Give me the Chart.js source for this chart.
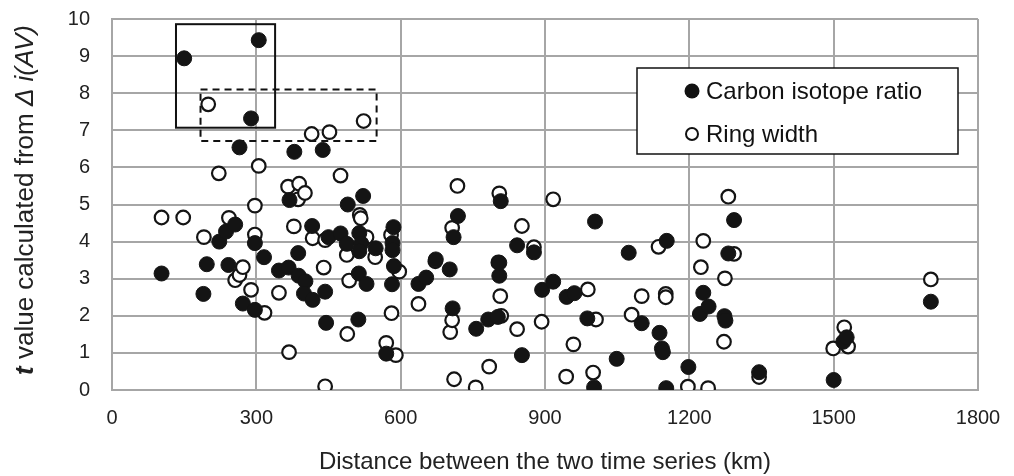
<!DOCTYPE html>
<html><head><meta charset="utf-8">
<script src="https://cdn.jsdelivr.net/npm/chart.js@4.4.0/dist/chart.umd.min.js"></script>
<style>html,body{margin:0;padding:0;background:#fff;}#wrap{width:1014px;height:476px;}</style>
</head><body><div id="wrap"><canvas id="c" width="1014" height="476"></canvas></div>
<script>
const seriesNames = ['Carbon isotope ratio', 'Ring width'];
const xTitle = 'Distance between the two time series (km)';
const yTitleParts = [['t', 'bold italic'], [' value calculated from ', 'normal'], ['\u0394 ', 'italic'], ['i(AV)', 'italic']];
const xTicks = [0, 300, 600, 900, 1200, 1500, 1800];
const yTicks = [0, 1, 2, 3, 4, 5, 6, 7, 8, 9, 10];

const carbonX = [103,150,190,197,223,237,256,242,265,272,289,297,297,305,316,347,367,369,379,387,388,402,399,417,416,438,443,445,450,475,488,490,514,518,514,522,513,529,512,548,585,583,583,586,582,570,637,653,673,702,708,710,719,757,782,802,805,805,808,842,852,877,894,917,945,961,988,1002,1004,1049,1074,1101,1138,1143,1145,1152,1153,1198,1222,1229,1240,1273,1275,1281,1293,1345,1500,1520,1527,1702];
const carbonY = [3.14,8.94,2.59,3.39,4.00,4.27,4.46,3.37,6.54,2.33,7.32,3.96,2.16,9.43,3.58,3.22,3.30,5.12,6.42,3.69,3.08,2.93,2.60,2.43,4.42,6.47,2.65,1.81,4.12,4.22,3.94,5.00,4.23,3.95,3.74,5.23,3.14,2.86,1.90,3.82,4.39,3.96,3.77,3.34,2.85,0.98,2.86,3.03,3.52,3.25,2.20,4.12,4.69,1.65,1.90,1.97,3.08,3.43,5.09,3.90,0.94,3.71,2.70,2.92,2.51,2.61,1.93,0.07,4.54,0.84,3.70,1.80,1.54,1.12,1.02,0.05,4.02,0.62,2.05,2.62,2.25,1.99,1.87,3.68,4.58,0.48,0.27,1.30,1.42,2.38];

const ringX = [103,148,191,200,222,243,256,265,272,289,297,297,305,317,347,366,368,378,387,389,401,415,417,440,443,443,452,475,488,489,493,515,517,523,529,547,570,580,581,590,597,637,672,703,707,707,711,718,756,784,803,805,807,809,842,852,877,893,917,944,959,989,1000,1006,1080,1101,1136,1151,1151,1197,1224,1229,1239,1272,1274,1281,1293,1345,1499,1522,1530,1702];
const ringY = [4.65,4.65,4.12,7.70,5.84,4.64,2.96,3.10,3.31,2.70,4.97,4.19,6.04,2.08,2.62,5.48,1.02,4.41,5.14,5.56,5.31,6.90,4.09,3.30,4.04,0.10,6.95,5.78,3.64,1.51,2.95,4.72,4.63,7.25,4.12,3.58,1.27,4.18,2.07,0.94,3.19,2.32,3.47,1.56,1.88,4.37,0.29,5.50,0.07,0.63,3.44,5.30,2.53,2.00,1.64,4.42,3.85,1.84,5.14,0.36,1.23,2.71,0.47,1.90,2.03,2.53,3.86,2.59,2.50,0.09,3.31,4.02,0.05,1.30,3.01,5.21,3.67,0.35,1.12,1.69,1.17,2.98];

const solidBoxX = [133, 339], solidBoxY = [7.07, 9.86];
const dashedBoxX = [184, 550], dashedBoxY = [6.71, 8.10];

const FONT = '"Liberation Sans", Arial, Helvetica, sans-serif';
const toPts = (xs, ys) => xs.map((x, i) => ({x: x, y: ys[i]}));

const boxesPlugin = {
  id: 'boxes',
  beforeDatasetsDraw(chart) {
    const {ctx, scales: {x, y}} = chart;
    ctx.save();
    ctx.strokeStyle = '#111';
    ctx.lineWidth = 2;
    ctx.setLineDash([]);
    ctx.strokeRect(x.getPixelForValue(solidBoxX[0]), y.getPixelForValue(solidBoxY[1]),
      x.getPixelForValue(solidBoxX[1]) - x.getPixelForValue(solidBoxX[0]),
      y.getPixelForValue(solidBoxY[0]) - y.getPixelForValue(solidBoxY[1]));
    ctx.setLineDash([7, 5]);
    ctx.strokeRect(x.getPixelForValue(dashedBoxX[0]), y.getPixelForValue(dashedBoxY[1]),
      x.getPixelForValue(dashedBoxX[1]) - x.getPixelForValue(dashedBoxX[0]),
      y.getPixelForValue(dashedBoxY[0]) - y.getPixelForValue(dashedBoxY[1]));
    ctx.restore();
  }
};

const decorPlugin = {
  id: 'decor',
  afterDraw(chart) {
    const ctx = chart.ctx;
    const ca = chart.chartArea;
    ctx.save();
    // legend
    const lx = 637, ly = 68, lw = 321, lh = 86;
    ctx.fillStyle = '#fff';
    ctx.fillRect(lx, ly, lw, lh);
    ctx.strokeStyle = '#111';
    ctx.lineWidth = 1.5;
    ctx.strokeRect(lx, ly, lw, lh);
    ctx.font = '24px ' + FONT;
    ctx.textBaseline = 'middle';
    ctx.textAlign = 'left';
    ctx.fillStyle = '#111';
    ctx.beginPath(); ctx.arc(692, 91, 7.5, 0, Math.PI * 2); ctx.fill();
    ctx.fillText(seriesNames[0], 706, 92);
    ctx.beginPath(); ctx.arc(692, 134, 6, 0, Math.PI * 2);
    ctx.fillStyle = '#fff'; ctx.fill(); ctx.lineWidth = 2; ctx.strokeStyle = '#111'; ctx.stroke();
    ctx.fillStyle = '#111';
    ctx.fillText(seriesNames[1], 706, 135);
    // x title
    ctx.textAlign = 'center';
    ctx.font = '24px ' + FONT;
    ctx.fillStyle = '#222';
    ctx.fillText(xTitle, (ca.left + ca.right) / 2, 462);
    // y title
    ctx.translate(26, 200);
    ctx.rotate(-Math.PI / 2);
    let total = 0;
    const sz = 26;
    const widths = yTitleParts.map(p => { ctx.font = p[1] + ' ' + sz + 'px ' + FONT; const w = ctx.measureText(p[0]).width; total += w; return w; });
    let cx = -total / 2;
    ctx.textAlign = 'left';
    yTitleParts.forEach((p, i) => { ctx.font = p[1] + ' ' + sz + 'px ' + FONT; ctx.fillText(p[0], cx, 0); cx += widths[i]; });
    ctx.restore();
  }
};

new Chart(document.getElementById('c'), {
  type: 'scatter',
  data: {
    datasets: [
      {label: seriesNames[0], data: toPts(carbonX, carbonY), pointRadius: 7.5, pointHoverRadius: 7.5,
       backgroundColor: '#141414', borderColor: '#141414', borderWidth: 1},
      {label: seriesNames[1], data: toPts(ringX, ringY), pointRadius: 6.8, pointHoverRadius: 6.8,
       backgroundColor: '#ffffff', borderColor: '#141414', borderWidth: 2.2}
    ]
  },
  options: {
    responsive: false, animation: false, devicePixelRatio: 1,
    layout: {padding: {left: 0, right: 36, top: 19, bottom: 0}},
    plugins: {legend: {display: false}, tooltip: {enabled: false}},
    scales: {
      x: {
        type: 'linear', min: 0, max: 1800,
        afterBuildTicks: s => { s.ticks = xTicks.map(v => ({value: v})); },
        afterFit: s => { s.height = 86; s.paddingLeft = 0; s.paddingRight = 0; },
        ticks: {font: {size: 20, family: FONT}, color: '#222', padding: 16, callback: v => String(v)},
        grid: {color: '#a6a6a6', lineWidth: 2, drawTicks: false},
        border: {display: true, color: '#a6a6a6', width: 2}
      },
      y: {
        min: 0, max: 10,
        afterBuildTicks: s => { s.ticks = yTicks.map(v => ({value: v})); },
        afterFit: s => { s.width = 112; s.paddingTop = 0; s.paddingBottom = 0; },
        ticks: {font: {size: 20, family: FONT}, color: '#222', padding: 22, callback: v => String(v)},
        grid: {color: '#a6a6a6', lineWidth: 2, drawTicks: false},
        border: {display: true, color: '#a6a6a6', width: 2}
      }
    }
  },
  plugins: [boxesPlugin, decorPlugin]
});
</script></body></html>
